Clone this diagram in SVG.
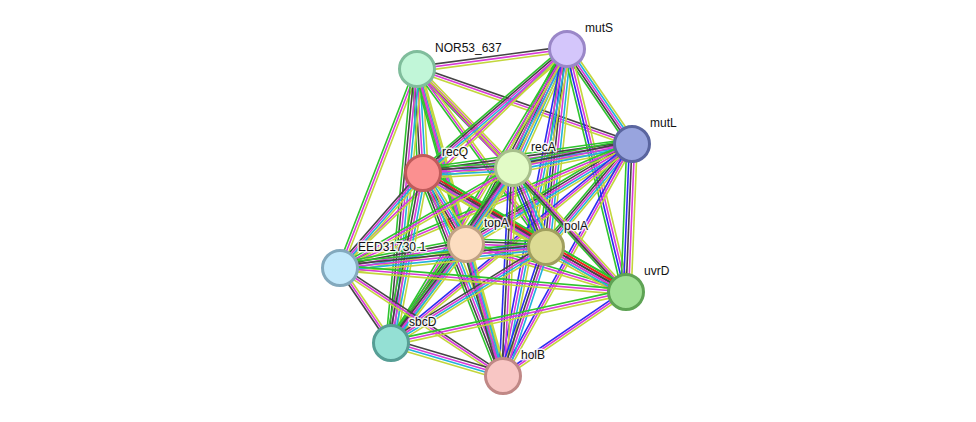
<svg xmlns="http://www.w3.org/2000/svg" xmlns:xlink="http://www.w3.org/1999/xlink" width="976" height="422" viewBox="0 0 976 422">
<style>
.n{stroke:#2ec42e}.f{stroke:#f02020}.c{stroke:#2b2bf0}.x{stroke:#444444}.e{stroke:#d83ad8}.d{stroke:#22b2dc}.t{stroke:#c3d63c}
#edges use{stroke-width:1.6;fill:none}
.node circle{stroke-width:3}
.lbl{font-family:"Liberation Sans",Arial,sans-serif;font-size:12px;fill:#111;stroke:#fff;stroke-width:3;stroke-opacity:0.85;paint-order:stroke;stroke-linejoin:round}
</style>
<defs>
<line id="NS" x1="417" y1="69" x2="567" y2="49"/>
<line id="NL" x1="417" y1="69" x2="632" y2="144"/>
<line id="NQ" x1="417" y1="69" x2="423" y2="173"/>
<line id="NA" x1="417" y1="69" x2="513" y2="168"/>
<line id="NT" x1="417" y1="69" x2="466" y2="244"/>
<line id="NP" x1="417" y1="69" x2="546" y2="247"/>
<line id="NE" x1="417" y1="69" x2="340" y2="268"/>
<line id="NU" x1="417" y1="69" x2="626" y2="292"/>
<line id="ND" x1="417" y1="69" x2="391" y2="343"/>
<line id="NH" x1="417" y1="69" x2="503" y2="376"/>
<line id="SL" x1="567" y1="49" x2="632" y2="144"/>
<line id="SQ" x1="567" y1="49" x2="423" y2="173"/>
<line id="SA" x1="567" y1="49" x2="513" y2="168"/>
<line id="ST" x1="567" y1="49" x2="466" y2="244"/>
<line id="SP" x1="567" y1="49" x2="546" y2="247"/>
<line id="SU" x1="567" y1="49" x2="626" y2="292"/>
<line id="SH" x1="567" y1="49" x2="503" y2="376"/>
<line id="SD" x1="567" y1="49" x2="391" y2="343"/>
<line id="SE" x1="567" y1="49" x2="340" y2="268"/>
<line id="LQ" x1="632" y1="144" x2="423" y2="173"/>
<line id="LA" x1="632" y1="144" x2="513" y2="168"/>
<line id="LT" x1="632" y1="144" x2="466" y2="244"/>
<line id="LP" x1="632" y1="144" x2="546" y2="247"/>
<line id="LU" x1="632" y1="144" x2="626" y2="292"/>
<line id="LH" x1="632" y1="144" x2="503" y2="376"/>
<line id="LE" x1="632" y1="144" x2="340" y2="268"/>
<line id="LD" x1="632" y1="144" x2="391" y2="343"/>
<line id="QA" x1="423" y1="173" x2="513" y2="168"/>
<line id="QT" x1="423" y1="173" x2="466" y2="244"/>
<line id="QP" x1="423" y1="173" x2="546" y2="247"/>
<line id="QU" x1="423" y1="173" x2="626" y2="292"/>
<line id="QE" x1="423" y1="173" x2="340" y2="268"/>
<line id="QD" x1="423" y1="173" x2="391" y2="343"/>
<line id="QH" x1="423" y1="173" x2="503" y2="376"/>
<line id="AT" x1="513" y1="168" x2="466" y2="244"/>
<line id="AP" x1="513" y1="168" x2="546" y2="247"/>
<line id="AU" x1="513" y1="168" x2="626" y2="292"/>
<line id="AE" x1="513" y1="168" x2="340" y2="268"/>
<line id="AD" x1="513" y1="168" x2="391" y2="343"/>
<line id="AH" x1="513" y1="168" x2="503" y2="376"/>
<line id="TP" x1="466" y1="244" x2="546" y2="247"/>
<line id="TE" x1="466" y1="244" x2="340" y2="268"/>
<line id="TU" x1="466" y1="244" x2="626" y2="292"/>
<line id="TD" x1="466" y1="244" x2="391" y2="343"/>
<line id="TH" x1="466" y1="244" x2="503" y2="376"/>
<line id="PE" x1="546" y1="247" x2="340" y2="268"/>
<line id="PU" x1="546" y1="247" x2="626" y2="292"/>
<line id="PD" x1="546" y1="247" x2="391" y2="343"/>
<line id="PH" x1="546" y1="247" x2="503" y2="376"/>
<line id="EU" x1="340" y1="268" x2="626" y2="292"/>
<line id="ED" x1="340" y1="268" x2="391" y2="343"/>
<line id="EH" x1="340" y1="268" x2="503" y2="376"/>
<line id="UD" x1="626" y1="292" x2="391" y2="343"/>
<line id="UH" x1="626" y1="292" x2="503" y2="376"/>
<line id="DH" x1="391" y1="343" x2="503" y2="376"/>
</defs>
<g id="edges">
<use href="#NS" class="x" y="-2.6"/><use href="#NS" class="e" y="0"/><use href="#NS" class="t" y="2.6"/>
<use href="#NL" class="x" y="-2.6"/><use href="#NL" class="e" y="0"/><use href="#NL" class="t" y="2.6"/>
<use href="#NQ" class="n" x="-5.2"/><use href="#NQ" class="x" x="-2.6"/><use href="#NQ" class="e" x="0"/><use href="#NQ" class="d" x="2.6"/><use href="#NQ" class="t" x="5.2"/>
<use href="#NA" class="n" x="-3.9"/><use href="#NA" class="x" x="-1.3"/><use href="#NA" class="e" x="1.3"/><use href="#NA" class="t" x="3.9"/>
<use href="#NT" class="n" x="-3.9"/><use href="#NT" class="e" x="-1.3"/><use href="#NT" class="d" x="1.3"/><use href="#NT" class="t" x="3.9"/>
<use href="#NP" class="n" x="-2.6"/><use href="#NP" class="e" x="0"/><use href="#NP" class="t" x="2.6"/>
<use href="#NE" class="n" x="-2.6"/><use href="#NE" class="e" x="0"/><use href="#NE" class="t" x="2.6"/>
<use href="#NU" class="e" x="-1.3"/><use href="#NU" class="t" x="1.3"/>
<use href="#ND" class="n" x="-5.2"/><use href="#ND" class="x" x="-2.6"/><use href="#ND" class="e" x="0"/><use href="#ND" class="d" x="2.6"/><use href="#ND" class="t" x="5.2"/>
<use href="#NH" class="n" x="-2.6"/><use href="#NH" class="e" x="0"/><use href="#NH" class="t" x="2.6"/>
<use href="#SL" class="n" x="-5.2"/><use href="#SL" class="x" x="-2.6"/><use href="#SL" class="e" x="0"/><use href="#SL" class="d" x="2.6"/><use href="#SL" class="t" x="5.2"/>
<use href="#SQ" class="n" y="-5.2"/><use href="#SQ" class="x" y="-2.6"/><use href="#SQ" class="e" y="0"/><use href="#SQ" class="d" y="2.6"/><use href="#SQ" class="t" y="5.2"/>
<use href="#SA" class="n" x="-5.2"/><use href="#SA" class="x" x="-2.6"/><use href="#SA" class="e" x="0"/><use href="#SA" class="d" x="2.6"/><use href="#SA" class="t" x="5.2"/>
<use href="#ST" class="n" x="-5.2"/><use href="#ST" class="x" x="-2.6"/><use href="#ST" class="e" x="0"/><use href="#ST" class="d" x="2.6"/><use href="#ST" class="t" x="5.2"/>
<use href="#SP" class="n" x="-6.5"/><use href="#SP" class="c" x="-3.9"/><use href="#SP" class="x" x="-1.3"/><use href="#SP" class="e" x="1.3"/><use href="#SP" class="d" x="3.9"/><use href="#SP" class="t" x="6.5"/>
<use href="#SU" class="n" x="-3.9"/><use href="#SU" class="c" x="-1.3"/><use href="#SU" class="e" x="1.3"/><use href="#SU" class="t" x="3.9"/>
<use href="#SH" class="c" x="-3.9"/><use href="#SH" class="e" x="-1.3"/><use href="#SH" class="d" x="1.3"/><use href="#SH" class="t" x="3.9"/>
<use href="#SD" class="n" x="-2.6"/><use href="#SD" class="e" x="0"/><use href="#SD" class="t" x="2.6"/>
<use href="#SE" class="e" y="-1.3"/><use href="#SE" class="t" y="1.3"/>
<use href="#LQ" class="n" y="-5.2"/><use href="#LQ" class="x" y="-2.6"/><use href="#LQ" class="e" y="0"/><use href="#LQ" class="d" y="2.6"/><use href="#LQ" class="t" y="5.2"/>
<use href="#LA" class="n" y="-5.2"/><use href="#LA" class="x" y="-2.6"/><use href="#LA" class="e" y="0"/><use href="#LA" class="d" y="2.6"/><use href="#LA" class="t" y="5.2"/>
<use href="#LT" class="n" y="-5.2"/><use href="#LT" class="x" y="-2.6"/><use href="#LT" class="e" y="0"/><use href="#LT" class="d" y="2.6"/><use href="#LT" class="t" y="5.2"/>
<use href="#LP" class="n" x="-5.2"/><use href="#LP" class="x" x="-2.6"/><use href="#LP" class="e" x="0"/><use href="#LP" class="d" x="2.6"/><use href="#LP" class="t" x="5.2"/>
<use href="#LU" class="n" x="-5.2"/><use href="#LU" class="c" x="-2.6"/><use href="#LU" class="x" x="0"/><use href="#LU" class="e" x="2.6"/><use href="#LU" class="t" x="5.2"/>
<use href="#LH" class="c" x="-2.6"/><use href="#LH" class="e" x="0"/><use href="#LH" class="t" x="2.6"/>
<use href="#LE" class="n" y="-2.6"/><use href="#LE" class="e" y="0"/><use href="#LE" class="t" y="2.6"/>
<use href="#LD" class="c" y="-2.6"/><use href="#LD" class="e" y="0"/><use href="#LD" class="t" y="2.6"/>
<use href="#QA" class="n" y="-5.2"/><use href="#QA" class="x" y="-2.6"/><use href="#QA" class="e" y="0"/><use href="#QA" class="d" y="2.6"/><use href="#QA" class="t" y="5.2"/>
<use href="#QT" class="n" x="-6.5"/><use href="#QT" class="f" x="-3.9"/><use href="#QT" class="x" x="-1.3"/><use href="#QT" class="e" x="1.3"/><use href="#QT" class="d" x="3.9"/><use href="#QT" class="t" x="6.5"/>
<use href="#QP" class="n" y="-5.2"/><use href="#QP" class="x" y="-2.6"/><use href="#QP" class="e" y="0"/><use href="#QP" class="d" y="2.6"/><use href="#QP" class="t" y="5.2"/>
<use href="#QU" class="n" y="-5.2"/><use href="#QU" class="f" y="-2.6"/><use href="#QU" class="x" y="0"/><use href="#QU" class="e" y="2.6"/><use href="#QU" class="t" y="5.2"/>
<use href="#QE" class="x" x="-3.9"/><use href="#QE" class="e" x="-1.3"/><use href="#QE" class="d" x="1.3"/><use href="#QE" class="t" x="3.9"/>
<use href="#QD" class="n" x="-5.2"/><use href="#QD" class="x" x="-2.6"/><use href="#QD" class="e" x="0"/><use href="#QD" class="d" x="2.6"/><use href="#QD" class="t" x="5.2"/>
<use href="#QH" class="n" x="-5.2"/><use href="#QH" class="x" x="-2.6"/><use href="#QH" class="e" x="0"/><use href="#QH" class="d" x="2.6"/><use href="#QH" class="t" x="5.2"/>
<use href="#AT" class="n" x="-5.2"/><use href="#AT" class="x" x="-2.6"/><use href="#AT" class="e" x="0"/><use href="#AT" class="d" x="2.6"/><use href="#AT" class="t" x="5.2"/>
<use href="#AP" class="n" x="-6.5"/><use href="#AP" class="c" x="-3.9"/><use href="#AP" class="x" x="-1.3"/><use href="#AP" class="e" x="1.3"/><use href="#AP" class="d" x="3.9"/><use href="#AP" class="t" x="6.5"/>
<use href="#AU" class="n" x="-3.9"/><use href="#AU" class="x" x="-1.3"/><use href="#AU" class="e" x="1.3"/><use href="#AU" class="t" x="3.9"/>
<use href="#AE" class="n" y="-2.6"/><use href="#AE" class="e" y="0"/><use href="#AE" class="t" y="2.6"/>
<use href="#AD" class="n" x="-5.2"/><use href="#AD" class="x" x="-2.6"/><use href="#AD" class="e" x="0"/><use href="#AD" class="d" x="2.6"/><use href="#AD" class="t" x="5.2"/>
<use href="#AH" class="c" x="-3.9"/><use href="#AH" class="x" x="-1.3"/><use href="#AH" class="e" x="1.3"/><use href="#AH" class="t" x="3.9"/>
<use href="#TP" class="n" y="-5.2"/><use href="#TP" class="x" y="-2.6"/><use href="#TP" class="e" y="0"/><use href="#TP" class="d" y="2.6"/><use href="#TP" class="t" y="5.2"/>
<use href="#TE" class="n" y="-5.2"/><use href="#TE" class="x" y="-2.6"/><use href="#TE" class="e" y="0"/><use href="#TE" class="d" y="2.6"/><use href="#TE" class="t" y="5.2"/>
<use href="#TU" class="n" y="-2.6"/><use href="#TU" class="e" y="0"/><use href="#TU" class="t" y="2.6"/>
<use href="#TD" class="n" x="-5.2"/><use href="#TD" class="x" x="-2.6"/><use href="#TD" class="e" x="0"/><use href="#TD" class="d" x="2.6"/><use href="#TD" class="t" x="5.2"/>
<use href="#TH" class="x" x="-3.9"/><use href="#TH" class="e" x="-1.3"/><use href="#TH" class="d" x="1.3"/><use href="#TH" class="t" x="3.9"/>
<use href="#PE" class="n" y="-5.2"/><use href="#PE" class="x" y="-2.6"/><use href="#PE" class="e" y="0"/><use href="#PE" class="d" y="2.6"/><use href="#PE" class="t" y="5.2"/>
<use href="#PU" class="n" y="-6.5"/><use href="#PU" class="f" y="-3.9"/><use href="#PU" class="x" y="-1.3"/><use href="#PU" class="e" y="1.3"/><use href="#PU" class="d" y="3.9"/><use href="#PU" class="t" y="6.5"/>
<use href="#PD" class="x" y="-3.9"/><use href="#PD" class="e" y="-1.3"/><use href="#PD" class="d" y="1.3"/><use href="#PD" class="t" y="3.9"/>
<use href="#PH" class="c" x="-3.9"/><use href="#PH" class="x" x="-1.3"/><use href="#PH" class="e" x="1.3"/><use href="#PH" class="d" x="3.9"/>
<use href="#EU" class="n" y="-2.6"/><use href="#EU" class="e" y="0"/><use href="#EU" class="t" y="2.6"/>
<use href="#ED" class="x" x="-2.6"/><use href="#ED" class="e" x="0"/><use href="#ED" class="t" x="2.6"/>
<use href="#EH" class="x" y="-2.6"/><use href="#EH" class="e" y="0"/><use href="#EH" class="t" y="2.6"/>
<use href="#UD" class="n" y="-2.6"/><use href="#UD" class="e" y="0"/><use href="#UD" class="t" y="2.6"/>
<use href="#UH" class="c" y="-2.6"/><use href="#UH" class="e" y="0"/><use href="#UH" class="t" y="2.6"/>
<use href="#DH" class="x" y="-3.9"/><use href="#DH" class="e" y="-1.3"/><use href="#DH" class="d" y="1.3"/><use href="#DH" class="t" y="3.9"/>
</g>
<g id="node-NOR53_637" class="node"><circle cx="417" cy="69" r="17.5" fill="#c1f6d8" stroke="#80bd9c"/></g>
<g id="node-mutS" class="node"><circle cx="567" cy="49" r="17.5" fill="#d4c6fb" stroke="#9a87c8"/></g>
<g id="node-mutL" class="node"><circle cx="632" cy="144" r="17.5" fill="#98a4de" stroke="#5a659f"/></g>
<g id="node-recQ" class="node"><circle cx="423" cy="173" r="17.5" fill="#fb9090" stroke="#c05b5b"/></g>
<g id="node-recA" class="node"><circle cx="513" cy="168" r="17.5" fill="#e2fbc6" stroke="#a7bf8b"/></g>
<g id="node-topA" class="node"><circle cx="466" cy="244" r="17.5" fill="#fcddc0" stroke="#c0a184"/></g>
<g id="node-polA" class="node"><circle cx="546" cy="247" r="17.5" fill="#dcdb94" stroke="#a09f5e"/></g>
<g id="node-EED31730.1" class="node"><circle cx="340" cy="268" r="17.5" fill="#c3e9fb" stroke="#83a9bd"/></g>
<g id="node-uvrD" class="node"><circle cx="626" cy="292" r="17.5" fill="#a0df95" stroke="#5ea354"/></g>
<g id="node-sbcD" class="node"><circle cx="391" cy="343" r="17.5" fill="#94e0d4" stroke="#569e95"/></g>
<g id="node-holB" class="node"><circle cx="503" cy="376" r="17.5" fill="#f8c6c4" stroke="#c08886"/></g>
<g id="labels">
<text class="lbl" x="435" y="52">NOR53_637</text>
<text class="lbl" x="585" y="32">mutS</text>
<text class="lbl" x="650" y="127">mutL</text>
<text class="lbl" x="442" y="156">recQ</text>
<text class="lbl" x="531" y="151">recA</text>
<text class="lbl" x="484" y="227">topA</text>
<text class="lbl" x="564" y="230">polA</text>
<text class="lbl" x="358" y="251">EED31730.1</text>
<text class="lbl" x="644" y="275">uvrD</text>
<text class="lbl" x="409" y="326">sbcD</text>
<text class="lbl" x="521" y="359">holB</text>
</g>
</svg>
